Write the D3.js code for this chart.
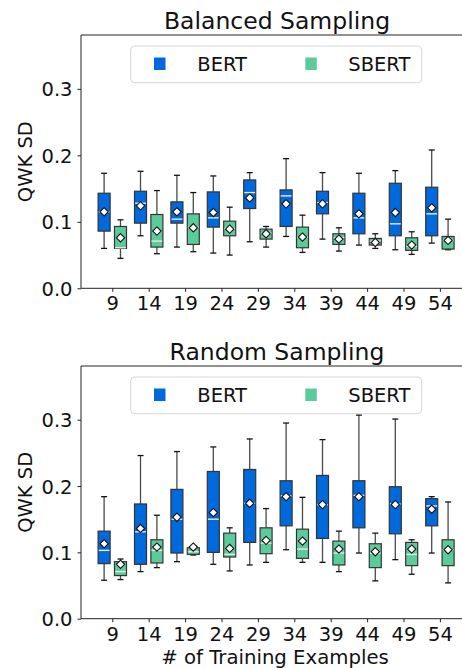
<!DOCTYPE html>
<html><head><meta charset="utf-8">
<script src="https://cdn.jsdelivr.net/npm/d3@7"></script>
<style>html,body{margin:0;padding:0;background:#fff;overflow:hidden}svg{display:block}</style>
</head><body><div id="chart"></div>
<script>
// categories (number of training examples)
const categories = ["9","14","19","24","29","34","39","44","49","54"];
const seriesNames = ["BERT","SBERT"];
const yTicks = [0.0, 0.1, 0.2, 0.3];
// box stats per category: [whiskerLow, q1, median, q3, whiskerHigh, mean]
const balancedBERT = [
 [0.060,0.086,0.115,0.143,0.173,0.115],[0.079,0.098,0.128,0.146,0.176,0.124],
 [0.062,0.098,0.104,0.130,0.170,0.115],[0.053,0.092,0.106,0.145,0.169,0.114],
 [0.070,0.120,0.144,0.163,0.174,0.136],[0.078,0.093,0.139,0.148,0.195,0.127],
 [0.074,0.112,0.129,0.146,0.174,0.127],[0.065,0.082,0.106,0.143,0.173,0.112],
 [0.058,0.079,0.097,0.158,0.177,0.114],[0.068,0.079,0.112,0.152,0.208,0.121]];
const balancedSBERT = [
 [0.045,0.060,0.061,0.093,0.103,0.076],[0.052,0.062,0.071,0.111,0.147,0.086],
 [0.055,0.066,0.092,0.112,0.144,0.091],[0.050,0.079,0.090,0.101,0.122,0.089],
 [0.062,0.074,0.083,0.089,0.093,0.082],[0.054,0.061,0.077,0.092,0.110,0.077],
 [0.056,0.066,0.076,0.082,0.091,0.074],[0.060,0.065,0.071,0.075,0.082,0.069],
 [0.051,0.057,0.063,0.076,0.085,0.065],[0.058,0.059,0.072,0.078,0.104,0.072]];
const randomBERT = [
 [0.058,0.083,0.103,0.132,0.184,0.113],[0.071,0.082,0.131,0.173,0.246,0.136],
 [0.086,0.099,0.150,0.195,0.252,0.153],[0.082,0.100,0.150,0.222,0.259,0.160],
 [0.081,0.115,0.174,0.225,0.271,0.174],[0.104,0.140,0.185,0.208,0.295,0.184],
 [0.085,0.121,0.172,0.216,0.270,0.172],[0.099,0.137,0.186,0.208,0.307,0.184],
 [0.089,0.128,0.173,0.199,0.301,0.172],[0.099,0.140,0.170,0.181,0.184,0.165]];
const randomSBERT = [
 [0.059,0.065,0.071,0.086,0.090,0.082],[0.077,0.084,0.103,0.119,0.156,0.108],
 [0.096,0.097,0.101,0.107,0.109,0.108],[0.072,0.093,0.097,0.129,0.137,0.106],
 [0.085,0.098,0.114,0.137,0.166,0.118],[0.085,0.091,0.105,0.135,0.183,0.117],
 [0.071,0.081,0.099,0.117,0.132,0.105],[0.057,0.077,0.099,0.113,0.129,0.101],
 [0.067,0.080,0.097,0.115,0.119,0.105],[0.054,0.080,0.104,0.119,0.176,0.104]];

const colors = {BERT:"#0069dc", SBERT:"#5ccb9b"};
const W = 462, H = 668;
const FONT = "DejaVu Sans, Liberation Sans, sans-serif";
const FS = 19.5;
const svg = d3.select("#chart").append("svg").attr("width", W).attr("height", H)
  .style("font-family", FONT);

function panel(title, dataB, dataS, top, bottom, showXLabel) {
  const left = 81, right = 471.2;
  const x = d3.scaleLinear().domain([-0.86, categories.length - 1 + 0.86]).range([left, right]);
  const y = d3.scaleLinear().domain([0, 0.381]).range([bottom, top]);
  const g = svg.append("g");
  const unit = x(1) - x(0);
  const offset = 0.225, bw = 0.33;

  // boxes
  [[dataB, "BERT", -offset], [dataS, "SBERT", offset]].forEach(([data, name, off]) => {
    const grp = g.append("g").selectAll("g").data(data).join("g")
      .attr("transform", (d, i) => `translate(${x(i + off)},0)`);
    const hw = bw * unit / 2, cap = hw * 0.5;
    grp.append("line").attr("x1",0).attr("x2",0).attr("y1",d=>y(d[3])).attr("y2",d=>y(d[4]))
      .attr("stroke","#4a4a4a").attr("stroke-width",1.3);
    grp.append("line").attr("x1",0).attr("x2",0).attr("y1",d=>y(d[0])).attr("y2",d=>y(d[1]))
      .attr("stroke","#4a4a4a").attr("stroke-width",1.3);
    grp.append("line").attr("x1",-cap).attr("x2",cap).attr("y1",d=>y(d[4])).attr("y2",d=>y(d[4]))
      .attr("stroke","#111").attr("stroke-width",1.3);
    grp.append("line").attr("x1",-cap).attr("x2",cap).attr("y1",d=>y(d[0])).attr("y2",d=>y(d[0]))
      .attr("stroke","#111").attr("stroke-width",1.3);
    grp.append("rect").attr("x",-hw).attr("width",2*hw)
      .attr("y",d=>y(d[3])).attr("height",d=>Math.max(0.5,y(d[1])-y(d[3])))
      .attr("fill",colors[name]).attr("stroke","#333").attr("stroke-width",1.2);
    grp.append("line").attr("x1",-hw+0.6).attr("x2",hw-0.6).attr("y1",d=>y(d[2])).attr("y2",d=>y(d[2]))
      .attr("stroke","#e8e8e8").attr("stroke-width",1.4);
    grp.append("path").attr("d", d3.symbol().type(d3.symbolDiamond2).size(44))
      .attr("transform", d => `translate(0,${y(d[5])})`)
      .attr("fill","#fff").attr("stroke","#111").attr("stroke-width",1.1);
  });

  // spines
  g.append("line").attr("x1",left).attr("x2",right).attr("y1",top).attr("y2",top).attr("stroke","#222").attr("stroke-width",1);
  g.append("line").attr("x1",left).attr("x2",right).attr("y1",bottom).attr("y2",bottom).attr("stroke","#222").attr("stroke-width",1);
  g.append("line").attr("x1",left).attr("x2",left).attr("y1",top).attr("y2",bottom).attr("stroke","#222").attr("stroke-width",1);

  // y axis
  const ya = g.append("g").attr("transform",`translate(${left},0)`)
    .call(d3.axisLeft(y).tickValues(yTicks).tickFormat(d3.format(".1f")).tickSize(3.5).tickPadding(5));
  ya.select(".domain").remove();
  ya.selectAll("text").attr("font-size",FS).attr("fill","#111").attr("font-family",FONT).attr("dy","0.36em");
  ya.selectAll("line").attr("stroke","#222");

  // x axis
  const xa = g.append("g").attr("transform",`translate(0,${bottom})`)
    .call(d3.axisBottom(x).tickValues(d3.range(categories.length)).tickFormat(i=>categories[i]).tickSize(3.5).tickPadding(4));
  xa.select(".domain").remove();
  xa.selectAll("text").attr("font-size",FS).attr("fill","#111").attr("font-family",FONT).attr("dy","0.74em");
  xa.selectAll("line").attr("stroke","#222");

  // y label
  g.append("text").attr("transform",`translate(32,${(top+bottom)/2}) rotate(-90)`)
    .attr("text-anchor","middle").attr("font-size",FS).attr("fill","#111").text("QWK SD");

  // title
  g.append("text").attr("x",277).attr("y",top-6).attr("text-anchor","middle")
    .attr("font-size",23.5).attr("fill","#111").text(title);

  // legend
  const lg = g.append("g").attr("transform",`translate(130.7,${top+11})`);
  lg.append("rect").attr("width",291).attr("height",36.7).attr("rx",4)
    .attr("fill","#fff").attr("fill-opacity",0.8).attr("stroke","#d6d6d6").attr("stroke-width",1);
  const items = [{n:"BERT", sx:23.3, tx:66.6},{n:"SBERT", sx:174.6, tx:217.6}];
  items.forEach(it => {
    lg.append("rect").attr("x",it.sx).attr("y",11.5).attr("width",11.5).attr("height",12.5).attr("fill",colors[it.n]);
    lg.append("text").attr("x",it.tx).attr("y",25).attr("font-size",FS).attr("fill","#111").text(it.n);
  });

  if (showXLabel) {
    g.append("text").attr("x",275).attr("y",bottom+45).attr("text-anchor","middle")
      .attr("font-size",19.7).attr("fill","#111").text("# of Training Examples");
  }
}

panel("Balanced Sampling", balancedBERT, balancedSBERT, 35, 288.3, false);
panel("Random Sampling", randomBERT, randomSBERT, 366, 618.7, true);
</script></body></html>
